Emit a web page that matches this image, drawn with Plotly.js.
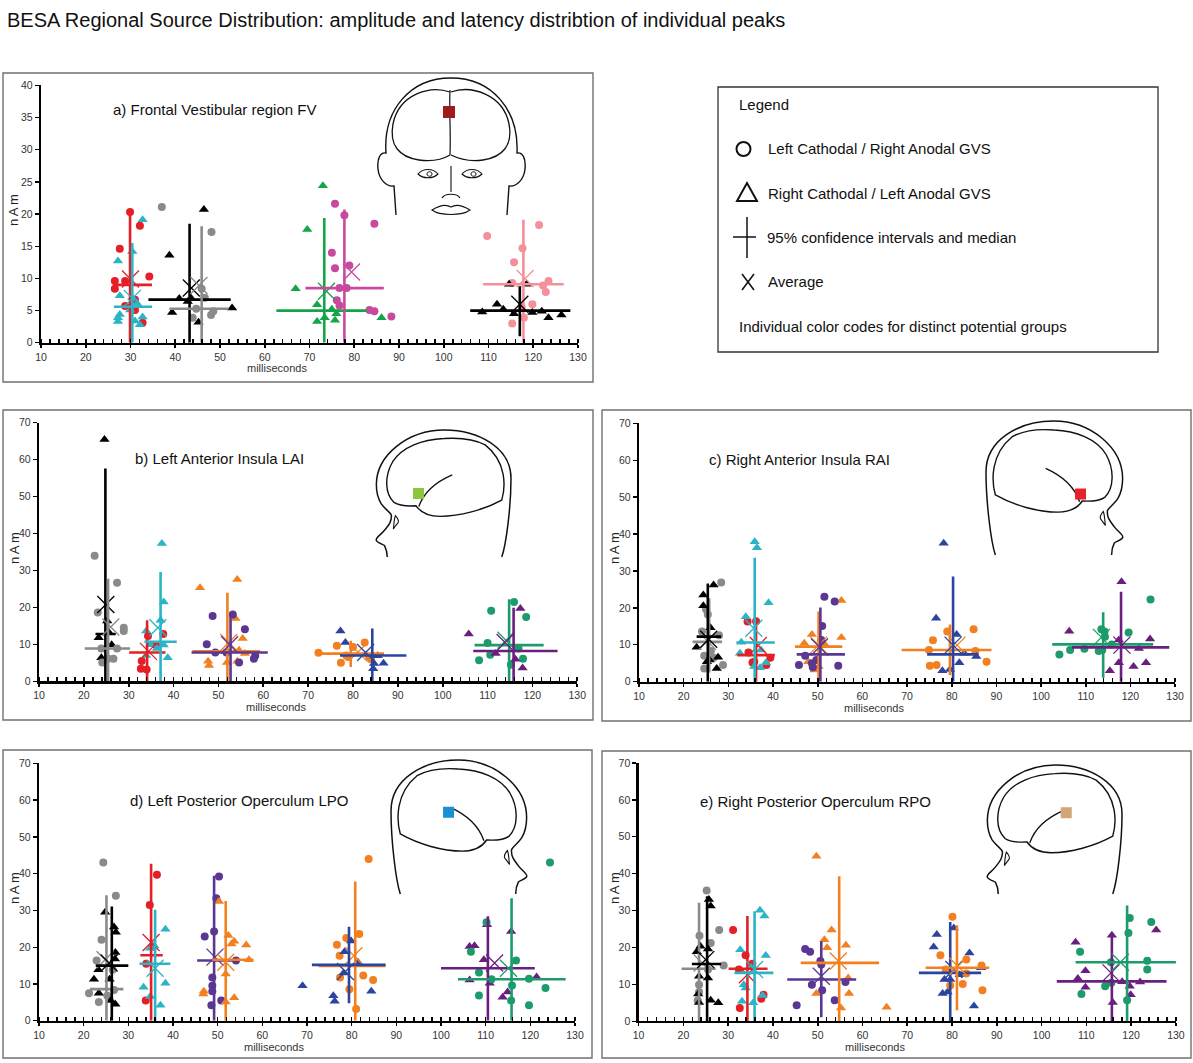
<!DOCTYPE html>
<html><head><meta charset="utf-8">
<script src="https://cdn.plot.ly/plotly-3.0.1.min.js"></script>
<style>body{margin:0;background:#fff}#chart{width:1193px;height:1063px}</style>
</head><body><div id="chart"></div>
<script>
// ---------------- DATA ----------------
// stim: 'LC' = Left Cathodal / Right Anodal GVS (circle), 'RC' = Right Cathodal / Left Anodal GVS (triangle)
const TICK_LABELS_X = [10,20,30,40,50,60,70,80,90,100,110,120,130];

// a) Frontal Vestibular region FV
const FV_group = ['red','cyan','black','gray','green','magenta','pink','black'];
const FV_stim  = ['LC','RC','RC','LC','RC','LC','LC','RC'];
const FV_lat = [
  [29.9,32.1,27.6,34.2,26.5,28.8,26.5,31.0,28.8,31.0,32.7],
  [32.7,30.4,27.2,27.6,30.4,31.5,27.6,27.2,27.2,31.0,32.7,32.1,29.9],
  [46.4,38.7,40.9,42.8,43.6,39.3,45.2,52.7],
  [37.0,48.1,45.9,46.6,44.7,48.5,48.0,43.9],
  [73.0,69.5,66.9,71.7,75.0,76.0,73.4,75.7,71.7,86.1],
  [75.7,77.8,84.5,75.0,75.7,78.9,76.7,78.3,76.1,76.7,83.4,84.5,88.3],
  [109.7,121.3,117.6,115.7,123.4,122.2,122.8,119.8,115.3,117.9,115.3,117.4],
  [114.6,118.5,111.9,108.6,113.3,115.7,119.8,121.9,123.4,126.3]
];
const FV_amp = [
  [20.3,18.2,14.6,10.3,9.6,9.6,8.4,6.7,5.7,5.1,3.1],
  [19.1,14.2,12.7,7.3,7.0,6.1,4.4,3.9,3.3,3.4,4.0,2.8,5.1],
  [20.7,13.6,6.9,6.4,6.9,4.7,3.2,5.4],
  [21.1,17.2,8.4,7.0,5.3,4.9,4.3,3.9],
  [24.4,17.6,8.4,5.9,5.2,4.5,3.9,3.5,3.3,3.9],
  [21.6,19.8,18.5,14.0,11.6,12.0,8.5,8.5,6.6,5.8,5.1,4.9,4.1],
  [16.6,18.3,14.7,12.5,9.6,8.9,7.9,6.0,9.3,3.9,3.0,5.6],
  [9.1,9.1,6.0,4.8,5.2,4.5,4.7,4.9,3.9,4.3]
];
const FV_medLat = [29.9,30.4,43.2,45.9,73.3,77.8,117.8,117.0];
const FV_medAmp = [9.0,5.6,6.7,5.3,5.0,8.5,9.1,5.0];
const FV_latCI = [[26.1,34.8],[26.3,34.8],[34.0,52.4],[38.7,51.9],[62.6,82.8],[69.1,86.6],[108.8,126.8],[105.9,128.3]];
const FV_ampCI = [[0,20.4],[0,15.5],[0,18.5],[0,18.1],[0,19.4],[0,20.7],[0,19.1],[1.0,8.8]];
const FV_meanLat = [30.0,30.4,43.6,45.3,73.8,79.4,118.2,117.0];
const FV_meanAmp = [9.9,6.9,8.5,8.9,8.0,11.0,10.0,6.0];

// b) Left Anterior Insula LAI
const LAI_group = ['black','gray','red','cyan','orange','purple','orange','blue','teal','violet'];
const LAI_stim  = ['RC','LC','LC','RC','RC','LC','LC','RC','LC','RC'];
const LAI_lat = [
  [24.6,25.2,23.3,25.6,26.2,23.9],
  [22.4,27.4,23.1,28.9,28.9,23.9,27.4,24.1,26.6,25.4],
  [34.3,37.7,36.1,32.9,32.7,34.0],
  [37.4,37.8,37.1,33.9,37.8,34.8,36.3,33.9,38.7],
  [45.9,54.2,53.8,55.4,55.9,47.7,47.9,54.2,54.6,51.9],
  [48.7,53.2,47.4,55.9,49.3,51.8,54.6,57.9,58.2],
  [76.4,80.0,82.6,77.3,78.5,78.9,83.6,84.0,72.3],
  [77.2,78.3,85.5,84.7,84.5,86.8],
  [115.9,110.8,118.6,110.0,110.6,108.1,115.2,116.9,117.9],
  [105.8,117.3,111.8,116.2,117.8]
];
const LAI_amp = [
  [65.5,16.3,11.8,13.2,9.9,6.4],
  [34.0,26.7,18.6,14.5,13.6,8.9,8.9,5.1,6.1,6.1],
  [12.3,12.8,9.8,5.5,3.4,3.2],
  [37.3,21.5,16.5,13.6,9.8,9.9,8.9,7.0,6.4],
  [25.3,27.6,17.0,11.6,7.5,5.4,4.3,5.4,8.4,5.1],
  [17.7,18.1,10.0,14.1,7.8,7.8,5.1,6.1,6.9],
  [9.6,9.3,10.5,5.0,7.0,6.6,6.4,6.0,7.7],
  [13.6,10.5,6.9,4.8,3.4,4.9],
  [21.5,19.1,17.4,10.4,7.2,5.7,4.5,8.9,6.1],
  [12.8,19.7,7.5,6.0,3.6]
];
const LAI_medLat = [24.8,25.4,34.1,37.1,52.0,52.7,79.5,84.3,114.8,115.8];
const LAI_medAmp = [12.8,8.9,7.8,10.7,8.1,7.8,7.5,7.0,9.8,8.2];
const LAI_latCI = [[22.6,27.1],[20.2,30.3],[30.1,38.2],[33.5,40.7],[44.2,59.3],[44.0,61.0],[72.1,86.9],[77.1,91.9],[107.1,122.5],[106.8,125.6]];
const LAI_ampCI = [[0,57.6],[0,27.8],[0,16.5],[0,29.6],[0,24.0],[0,18.1],[3.9,11.0],[0,14.3],[0,22.2],[0,19.9]];
const LAI_meanLat = [24.9,26.0,34.4,36.5,52.3,52.5,81.1,82.8,114.1,113.9];
const LAI_meanAmp = [20.8,14.7,8.1,14.5,10.5,9.9,7.9,7.8,11.1,10.5];

// c) Right Anterior Insula RAI
const RAI_group = ['gray','black','red','cyan','orange','purple','orange','blue','teal','violet'];
const RAI_stim  = ['LC','RC','LC','RC','RC','LC','LC','RC','LC','RC'];
const RAI_lat = [
  [28.4,25.4,25.0,24.1,27.9,24.6,26.1,28.8,24.6,26.7],
  [24.4,26.7,24.4,26.0,22.9,27.7,25.2,25.8,27.4],
  [34.3,36.2,34.5,35.8,35.4,38.5,39.4],
  [35.9,36.4,39.0,33.9,32.9,32.6,37.3,38.4,35.8,37.1],
  [55.3,55.3,48.7,47.0,51.6,47.9,49.3,50.2],
  [51.5,53.8,51.0,50.8,47.2,45.8,48.7,48.9,49.7,54.6],
  [75.8,79.0,84.9,74.9,85.3,75.1,76.6,87.8],
  [78.2,76.5,81.1,82.8,85.5,81.7,77.9,79.6],
  [124.5,113.5,114.2,119.6,114.3,115.8,109.7,106.5,112.9,113.7,104.1],
  [118.0,106.3,117.4,124.4,121.9,117.4,123.5,120.7,115.4]
];
const RAI_amp = [
  [26.9,18.2,19.6,13.6,12.6,7.0,8.3,4.5,3.6,6.5],
  [23.5,26.2,20.6,14.6,9.3,6.6,5.4,5.9,3.6],
  [16.3,16.4,7.9,5.4,5.2,4.5,6.5],
  [37.9,36.3,21.4,17.6,10.7,7.7,8.6,5.1,4.1,3.8],
  [22.0,12.0,12.8,10.4,10.1,5.4,3.2,4.1],
  [23.0,21.7,15.1,11.3,7.0,4.5,5.0,3.9,5.9,4.3],
  [11.2,13.6,14.2,8.6,8.3,4.3,4.5,5.4],
  [37.5,17.2,12.8,7.7,6.8,5.1,3.0,3.3],
  [22.3,14.2,13.6,13.3,12.2,10.1,8.9,8.6,8.3,8.6,7.4],
  [27.1,13.7,11.3,11.6,9.0,5.1,5.1,4.1,3.0]
];
const RAI_medLat = [25.7,25.4,36.2,35.9,50.2,50.6,79.6,80.3,113.9,117.9];
const RAI_medAmp = [10.8,12.2,7.2,10.6,9.5,7.4,8.6,7.4,10.1,9.3];
const RAI_latCI = [[22.0,28.6],[22.9,28.4],[32.0,40.4],[31.8,40.4],[44.9,55.5],[45.3,56.1],[68.8,88.9],[74.5,86.0],[102.5,125.1],[106.9,128.7]];
const RAI_ampCI = [[2.5,22.6],[0,26.6],[0,17.2],[0,33.6],[0,19.0],[0,20.1],[1.8,15.5],[0,28.5],[1.1,18.8],[0,24.4]];
const RAI_meanLat = [25.3,25.6,36.7,35.7,50.2,50.4,81.2,80.3,113.5,118.1];
const RAI_meanAmp = [11.0,11.5,9.8,14.5,9.9,9.4,9.9,9.9,12.0,9.9];

// d) Left Posterior Operculum LPO
const LPO_group = ['gray','black','red','cyan','purple','orange','orange','blue','violet','teal'];
const LPO_stim  = ['LC','RC','LC','RC','LC','RC','LC','RC','RC','LC'];
const LPO_lat = [
  [24.4,27.2,24.0,22.9,26.5,21.2,23.4,25.3,26.8],
  [24.8,26.8,27.2,27.1,27.0,23.3,22.3,25.8,23.4,26.1,27.1],
  [36.4,34.8,35.5,34.0,33.9],
  [38.3,34.9,35.8,33.4,38.3,34.9,37.2],
  [50.3,49.7,47.1,49.2,48.8,48.8,48.8,50.8,48.6,54.1],
  [50.3,52.4,53.7,53.1,56.4,57.0,51.8,46.9,46.8,53.7,51.8],
  [83.8,81.7,78.8,76.7,77.3,77.4,82.6,84.8,79.5,81.0],
  [79.9,78.4,81.4,78.2,69.0,75.9,76.2,84.4],
  [110.3,106.4,107.5,109.6,106.4,110.9,115.7,113.8,114.9,121.4],
  [124.4,110.2,106.7,108.5,116.8,111.3,115.9,119.7,123.4,108.5,115.7,119.7]
];
const LPO_amp = [
  [43.0,34.0,22.0,16.4,13.9,7.5,5.1,6.8,8.4],
  [29.5,25.5,24.1,18.6,16.8,13.9,11.3,11.3,7.5,5.5,4.5],
  [39.7,31.5,20.2,15.5,5.5],
  [24.9,19.7,20.4,9.1,10.2,6.6,4.2],
  [39.2,33.3,22.9,24.3,11.8,9.5,8.0,5.5,4.2,16.4],
  [32.4,23.2,21.6,20.9,20.6,16.6,12.7,8.0,7.3,6.3,5.1],
  [44.0,23.6,22.5,20.7,17.7,11.8,12.3,11.1,8.6,3.2],
  [21.7,18.8,15.9,13.0,9.5,6.8,5.3,8.0],
  [26.1,20.2,20.4,16.6,11.1,10.2,24.3,6.4,7.8,11.9],
  [43.0,26.8,18.8,13.1,16.4,11.3,9.6,11.4,8.9,6.9,5.5,4.2]
];
const LPO_medLat = [25.1,26.3,35.1,36.0,49.2,51.8,80.8,79.4,110.5,115.8];
const LPO_medAmp = [8.6,15.0,17.8,15.5,16.4,16.6,14.9,15.2,14.3,11.3];
const LPO_latCI = [[21.4,28.9],[22.7,30.0],[32.7,37.7],[32.5,39.4],[45.4,53.8],[48.8,58.0],[72.6,87.6],[71.1,87.6],[100.0,121.0],[103.8,127.9]];
const LPO_ampCI = [[0,34.1],[0,31.1],[0,42.7],[0,30.2],[0,39.4],[0,32.6],[0,37.9],[4.8,25.6],[0,28.4],[0,33.3]];
const LPO_meanLat = [24.8,25.7,35.1,36.0,49.4,51.8,80.5,78.6,112.0,115.1];
const LPO_meanAmp = [16.6,15.7,21.3,14.3,17.3,15.9,17.7,13.4,15.7,14.3];

// e) Right Posterior Operculum RPO
const RPO_group = ['gray','black','red','cyan','purple','orange','blue','orange','violet','teal'];
const RPO_stim  = ['LC','RC','LC','RC','LC','RC','RC','LC','RC','LC'];
const RPO_lat = [
  [25.2,28.0,23.6,26.1,29.0,23.5,23.5,23.2,25.5],
  [26.1,25.7,23.8,23.0,25.5,23.5,25.5,23.3,23.5,26.1,27.8],
  [31.1,33.9,35.4,32.4,37.9,37.4,32.6],
  [37.1,38.1,38.4,32.7,35.2,33.5,33.9,37.7,35.6,33.1],
  [47.2,48.3,50.6,50.8,56.2,48.7,51.0,53.8,45.3],
  [49.7,53.1,51.5,52.1,56.3,56.8,57.0,49.7,55.2,65.4],
  [76.6,80.4,75.9,83.9,86.5,78.3,79.6,81.7,77.9,79.0,84.9],
  [80.1,77.4,83.2,78.6,83.2,86.6,79.6,82.4,86.8],
  [107.6,109.8,108.1,109.8,115.7,125.6,115.9,118.0,119.7,119.9,122.0],
  [119.7,124.5,119.4,108.6,115.5,123.6,123.6,114.2,115.6,108.9,119.1]
];
const RPO_amp = [
  [35.4,24.7,23.2,21.2,15.1,9.9,7.9,5.6,14.0],
  [31.2,33.0,20.3,18.8,19.6,12.2,11.7,7.4,5.1,5.7,5.0],
  [24.7,17.9,15.6,14.0,7.2,6.1,3.6],
  [30.1,28.5,17.8,19.4,14.5,9.9,9.0,7.0,5.0,5.4],
  [19.6,18.8,16.3,15.4,10.6,9.9,8.4,5.7,4.3],
  [44.7,24.7,22.1,19.9,20.6,11.7,7.5,7.5,3.6,3.8],
  [23.5,25.3,20.1,18.5,14.5,11.3,11.3,12.6,7.5,7.9,4.1],
  [28.3,17.9,16.7,14.0,12.9,15.1,9.7,10.1,8.4],
  [21.4,13.7,11.6,9.2,23.3,24.7,5.1,10.7,9.5,7.2,10.6],
  [28.0,26.9,23.9,18.8,16.0,16.4,14.0,9.5,10.4,7.4,5.7]
];
const RPO_medLat = [23.5,25.3,34.3,35.9,50.8,54.8,79.6,81.1,115.7,119.1];
const RPO_medAmp = [14.2,15.5,14.2,13.1,11.3,15.8,13.1,14.5,10.8,16.0];
const RPO_latCI = [[19.6,27.2],[21.9,28.4],[30.1,38.8],[31.4,40.1],[43.2,58.6],[46.2,63.7],[72.6,86.5],[74.1,88.3],[103.4,127.9],[107.6,130.3]];
const RPO_ampCI = [[0,32.1],[0,33.9],[0,28.5],[0,29.8],[1.1,21.7],[0,39.3],[0,26.9],[3.0,26.0],[0,23.8],[0,31.4]];
const RPO_meanLat = [24.2,25.0,34.3,35.9,50.8,54.6,80.4,81.3,115.5,117.6];
const RPO_meanAmp = [15.8,16.7,12.6,14.0,12.2,16.3,14.0,14.9,13.1,16.0];

// ---------------- STYLE ----------------
const COLORS = {
  red:'#e41f26', cyan:'#2ab5c6', black:'#000000', gray:'#8a8a8a', green:'#14a54a',
  magenta:'#c84a9f', pink:'#f4909a', orange:'#f28020', purple:'#5b3794', violet:'#6a1f7f',
  blue:'#2a44a0', teal:'#1c9c6b'
};
const NARROW = '"Liberation Sans Narrow", "Arial Narrow", "Liberation Sans", Arial, sans-serif';
const SANS = '"Liberation Sans", Arial, sans-serif';
const W = 1193, H = 1063;
const fx = px => px / W;
const fy = py => 1 - py / H;

const PANELS = [
  {d:{group:FV_group,stim:FV_stim,lat:FV_lat,amp:FV_amp,medLat:FV_medLat,medAmp:FV_medAmp,latCI:FV_latCI,ampCI:FV_ampCI,meanLat:FV_meanLat,meanAmp:FV_meanAmp},
   title:'a) Frontal Vestibular region FV', x0:41, x1:578, yb:342.8, yt:85.3, ymax:40, dy:5,
   box:[3,73,593,382], tXY:[111,109], msXY:[277,368], nXY:[14,210]},
  {d:{group:LAI_group,stim:LAI_stim,lat:LAI_lat,amp:LAI_amp,medLat:LAI_medLat,medAmp:LAI_medAmp,latCI:LAI_latCI,ampCI:LAI_ampCI,meanLat:LAI_meanLat,meanAmp:LAI_meanAmp},
   title:'b) Left Anterior Insula LAI', x0:39, x1:577.3, yb:681.3, yt:422.8, ymax:70, dy:10,
   box:[3,410,593,720], tXY:[133,458], msXY:[276,707], nXY:[14,548]},
  {d:{group:RAI_group,stim:RAI_stim,lat:RAI_lat,amp:RAI_amp,medLat:RAI_medLat,medAmp:RAI_medAmp,latCI:RAI_latCI,ampCI:RAI_ampCI,meanLat:RAI_meanLat,meanAmp:RAI_meanAmp},
   title:'c) Right Anterior Insula RAI', x0:639, x1:1175.1, yb:681.7, yt:423.3, ymax:70, dy:10,
   box:[602,410,1191,721], tXY:[707,459], msXY:[874,708], nXY:[614,548]},
  {d:{group:LPO_group,stim:LPO_stim,lat:LPO_lat,amp:LPO_amp,medLat:LPO_medLat,medAmp:LPO_medAmp,latCI:LPO_latCI,ampCI:LPO_ampCI,meanLat:LPO_meanLat,meanAmp:LPO_meanAmp},
   title:'d) Left Posterior Operculum LPO', x0:39, x1:575, yb:1020.8, yt:763.3, ymax:70, dy:10,
   box:[3,750,592,1058], tXY:[128,800], msXY:[274,1047], nXY:[14,888]},
  {d:{group:RPO_group,stim:RPO_stim,lat:RPO_lat,amp:RPO_amp,medLat:RPO_medLat,medAmp:RPO_medAmp,latCI:RPO_latCI,ampCI:RPO_ampCI,meanLat:RPO_meanLat,meanAmp:RPO_meanAmp},
   title:'e) Right Posterior Operculum RPO', x0:638.6, x1:1175.9, yb:1021.2, yt:763, ymax:70, dy:10,
   box:[602,751,1191,1058], tXY:[698,801], msXY:[875,1047], nXY:[614,888]}
];

const traces = [];
const layout = {
  width: W, height: H, margin:{l:0,r:0,t:0,b:0},
  paper_bgcolor:'#ffffff', plot_bgcolor:'rgba(0,0,0,0)', showlegend:false,
  font:{family:NARROW, color:'#222'},
  annotations:[], shapes:[]
};

PANELS.forEach((P, k) => {
  const n = k + 1;
  const xa = n === 1 ? 'x' : 'x' + n;
  const ya = n === 1 ? 'y' : 'y' + n;
  layout[n === 1 ? 'xaxis' : 'xaxis' + n] = {
    domain:[fx(P.x0), fx(P.x1)], range:[10,130], anchor: ya,
    showline:true, linecolor:'#000', linewidth:2.2, showgrid:false, zeroline:false,
    tickmode:'array', tickvals:TICK_LABELS_X, ticktext:TICK_LABELS_X.map(String),
    ticks:'outside', ticklen:3, tickwidth:1.6, tickcolor:'#000',
    minor:{dtick:2, tick0:10, ticks:'inside', ticklen:4, tickwidth:1.6, tickcolor:'#000', showgrid:false},
    tickfont:{family:NARROW, size:10.5, color:'#333'}, fixedrange:true
  };
  layout[n === 1 ? 'yaxis' : 'yaxis' + n] = {
    domain:[fy(P.yb), fy(P.yt)], range:[0, P.ymax], anchor: xa,
    showline:true, linecolor:'#000', linewidth:2.2, showgrid:false, zeroline:false,
    dtick:P.dy, tick0:0, ticks:'outside', ticklen:4, tickwidth:1.4, tickcolor:'#000',
    tickfont:{family:NARROW, size:10.5, color:'#333'}, fixedrange:true
  };
  const d = P.d;
  d.group.forEach((g, i) => {
    traces.push({type:'scatter', mode:'markers', x:d.lat[i], y:d.amp[i], xaxis:xa, yaxis:ya,
      cliponaxis:false,
      marker:{symbol: d.stim[i] === 'LC' ? 'circle' : 'triangle-up', size: d.stim[i] === 'LC' ? 8 : 9,
              color: COLORS[g], line:{width:0}}});
  });
  d.group.forEach((g, i) => {
    traces.push({type:'scatter', mode:'lines', xaxis:xa, yaxis:ya,
      x:[d.latCI[i][0], d.latCI[i][1], null, d.medLat[i], d.medLat[i]],
      y:[d.medAmp[i], d.medAmp[i], null, d.ampCI[i][0], d.ampCI[i][1]],
      line:{color: COLORS[g], width:2.6}});
    traces.push({type:'scatter', mode:'markers', xaxis:xa, yaxis:ya, cliponaxis:false,
      x:[d.meanLat[i]], y:[d.meanAmp[i]],
      marker:{symbol:'x-thin', size:17, color:COLORS[g], line:{color:COLORS[g], width:1.3}}});
  });
  // panel frame
  layout.shapes.push({type:'rect', xref:'paper', yref:'paper',
    x0:fx(P.box[0]), x1:fx(P.box[2]), y0:fy(P.box[3]), y1:fy(P.box[1]),
    line:{color:'#707070', width:1.4}, layer:'below'});
  layout.annotations.push({xref:'paper', yref:'paper', x:fx(P.tXY[0]), y:fy(P.tXY[1]),
    xanchor:'left', yanchor:'middle', showarrow:false, text:P.title,
    font:{family:NARROW, size:15, color:'#111'}});
  layout.annotations.push({xref:'paper', yref:'paper', x:fx(P.msXY[0]), y:fy(P.msXY[1]),
    xanchor:'center', yanchor:'middle', showarrow:false, text:'milliseconds',
    font:{family:NARROW, size:11, color:'#333'}});
  layout.annotations.push({xref:'paper', yref:'paper', x:fx(P.nXY[0]), y:fy(P.nXY[1]),
    xanchor:'center', yanchor:'middle', showarrow:false, text:'n\u2009A\u2009m', textangle:-90,
    font:{family:SANS, size:13, color:'#222'}});
});

// main title
layout.annotations.push({xref:'paper', yref:'paper', x:fx(5), y:fy(20), xanchor:'left', yanchor:'middle',
  showarrow:false, text:'BESA Regional Source Distribution: amplitude and latency distribtion of individual peaks',
  font:{family:SANS, size:20, color:'#111'}});

// ---------------- DRAWINGS (decoration) ----------------
function tf(dstr, fn) {
  return dstr.replace(/(-?\d*\.?\d+)\s*,\s*(-?\d*\.?\d+)/g, (m, a, b) => {
    const p = fn(+a, +b);
    return fx(p[0]).toFixed(5) + ',' + fy(p[1]).toFixed(5);
  });
}
const ident = (a, b) => [a, b];
function addPath(dstr, fn, width, fill) {
  layout.shapes.push({type:'path', xref:'paper', yref:'paper', path: tf(dstr, fn),
    line:{color:'#111', width: width || 1.4}, fillcolor: fill || 'rgba(0,0,0,0)', layer:'above'});
}
function addSquare(cx, cy, s, color) {
  layout.shapes.push({type:'rect', xref:'paper', yref:'paper',
    x0:fx(cx - s/2), x1:fx(cx + s/2), y0:fy(cy + s/2), y1:fy(cy - s/2),
    fillcolor:color, line:{width:0}, layer:'above'});
}

// Frontal head (panel a)
addPath('M 396,215 L 394,186 C 386,187 379,179 378,169 C 377,159 380,152 386,153 C 383,110 410,78 451,78 C 492,78 519,110 517,153 C 523,152 526,159 525,169 C 524,179 517,187 509,186 L 507,215', ident, 1.4);
addPath('M 450,92 C 430,85 399,94 393,124 C 389,145 399,157 419,160 C 434,162 445,158 450,155', ident, 1.3);
addPath('M 451,92 C 471,85 503,94 509,124 C 513,145 503,157 483,160 C 468,162 457,158 451,155', ident, 1.3);
addPath('M 450,90 C 449,110 451,135 450,155', ident, 1.2);
addPath('M 418,174 C 423,168 433,168 438,174 C 433,179 423,179 418,174 Z', ident, 1.1);
addPath('M 462,174 C 467,168 477,168 482,174 C 477,179 467,179 462,174 Z', ident, 1.1);
addPath('M 427,174 C 427,171 432,171 432,174 C 432,177 427,177 427,174 Z', ident, 1.0);
addPath('M 471,174 C 471,171 476,171 476,174 C 476,177 471,177 471,174 Z', ident, 1.0);
addPath('M 451,166 L 451,192', ident, 1.1);
addPath('M 442,198 C 445,193 457,193 460,198', ident, 1.2);
addPath('M 432,210 C 440,205 446,204 451,207 C 456,204 462,205 470,210 C 462,216 440,216 432,210 Z', ident, 1.1);
addSquare(449, 112, 12, '#9b1c1c');

// Side heads (panels b-e), normalized shape facing right
const SIDE_OUTER = 'M 0.068,1 C 0.035,0.9 0.0,0.6 0.0,0.38 C 0.0,0.14 0.24,0.0 0.49,0.0 C 0.76,0.0 0.99,0.2 0.99,0.43 C 0.99,0.5 0.975,0.545 0.955,0.58 C 0.93,0.62 0.885,0.65 0.88,0.67 C 0.875,0.72 0.9,0.75 0.93,0.79 C 0.96,0.83 1.0,0.85 0.99,0.87 C 0.98,0.89 0.94,0.9 0.93,0.91 C 0.915,0.94 0.91,0.97 0.91,1';
const SIDE_EYE = 'M 0.85,0.675 C 0.83,0.7 0.825,0.72 0.83,0.73 C 0.845,0.75 0.86,0.77 0.865,0.78 C 0.86,0.74 0.86,0.7 0.85,0.675 Z';
const SIDE_BRAIN = 'M 0.068,0.552 C 0.04,0.45 0.03,0.25 0.19,0.117 C 0.29,0.06 0.4,0.06 0.493,0.067 C 0.65,0.075 0.8,0.13 0.87,0.25 C 0.93,0.36 0.93,0.5 0.86,0.57 C 0.82,0.6 0.75,0.6 0.698,0.597 C 0.67,0.64 0.62,0.68 0.52,0.68 C 0.38,0.68 0.2,0.63 0.068,0.552 Z';
const SIDE_FISSURE = 'M 0.432,0.353 C 0.541,0.403 0.637,0.478 0.678,0.602';
const HEADS = [
  {x0:375, x1:511, y0:430, y1:557, mirror:true,  sq:[0.68,0.50], col:'#8cc63e'},
  {x0:986, x1:1124, y0:421, y1:555, mirror:false, sq:[0.685,0.545], col:'#e8202a'},
  {x0:391, x1:528, y0:760, y1:894, mirror:false, sq:[0.42,0.39], col:'#1b8fd2'},
  {x0:986, x1:1122, y0:765, y1:894, mirror:true,  sq:[0.41,0.37], col:'#d2a679'}
];
HEADS.forEach(h => {
  const fn = (u, v) => [h.mirror ? h.x1 - u*(h.x1-h.x0) : h.x0 + u*(h.x1-h.x0), h.y0 + v*(h.y1-h.y0)];
  addPath(SIDE_OUTER, fn, 1.5);
  addPath(SIDE_BRAIN, fn, 1.4);
  addPath(SIDE_FISSURE, fn, 1.4);
  addPath(SIDE_EYE, fn, 1.1);
  const c = fn(h.sq[0], h.sq[1]);
  addSquare(c[0], c[1], 11, h.col);
});

// ---------------- LEGEND BOX ----------------
layout.shapes.push({type:'rect', xref:'paper', yref:'paper', x0:fx(718), x1:fx(1158), y0:fy(352), y1:fy(87),
  line:{color:'#333', width:1.3}});
layout.shapes.push({type:'circle', xref:'paper', yref:'paper', x0:fx(736.5), x1:fx(750.5), y0:fy(156), y1:fy(142),
  line:{color:'#111', width:2}});
addPath('M 737,201 L 747,183 L 757,201 Z', ident, 2);
addPath('M 747,217 L 747,258', ident, 1.5);
addPath('M 733,237 L 756,237', ident, 1.5);
addPath('M 742,274 L 754,290', ident, 1.6);
addPath('M 754,274 L 742,290', ident, 1.6);
const LEG = [
  ['Legend', 737, 104], ['Left Cathodal / Right Anodal GVS', 766, 149],
  ['Right Cathodal / Left Anodal GVS', 766, 193], ['95% confidence intervals and median', 765, 237],
  ['Average', 766, 282], ['Individual color codes for distinct potential groups', 737, 326]
];
LEG.forEach(l => layout.annotations.push({xref:'paper', yref:'paper', x:fx(l[1]), y:fy(l[2]),
  xanchor:'left', yanchor:'middle', showarrow:false, text:l[0], font:{family:NARROW, size:15, color:'#111'}}));

Plotly.newPlot('chart', traces, layout, {staticPlot:true, displayModeBar:false});
</script></body></html>
